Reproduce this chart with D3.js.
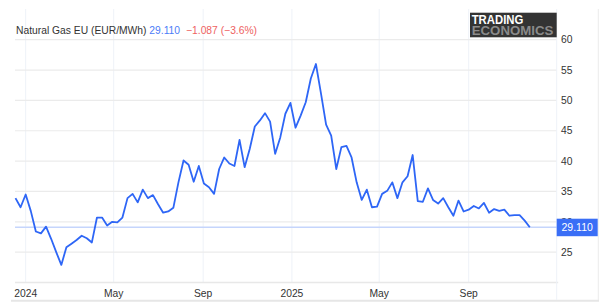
<!DOCTYPE html>
<html>
<head>
<meta charset="utf-8">
<script src="https://cdn.jsdelivr.net/npm/d3@7"></script>
<style>
  html, body { margin: 0; padding: 0; background: #fff; }
  svg { display: block; font-family: "Liberation Sans", Arial, sans-serif; }
</style>
</head>
<body>
<div class="svgcontainer"></div>
<script>
// weekly settlement prices, EUR/MWh
const firstWeek = "2023-12-18";
const prices = [
  33.9, 32.4, 34.5, 31.8, 28.4, 28.1, 29.2, 27.2, 25.0, 22.9,
  25.8, 26.4, 27.0, 27.7, 27.3, 26.6, 30.7, 30.7, 29.4, 30.0,
  29.9, 30.7, 33.9, 34.6, 33.2, 35.3, 33.9, 34.4, 32.9, 31.5,
  31.7, 32.3, 36.5, 40.1, 39.4, 36.6, 39.2, 36.3, 35.7, 34.6,
  38.7, 40.6, 39.6, 39.2, 43.5, 39.0, 42.0, 45.7, 46.7, 47.9,
  46.5, 41.2, 43.9, 47.8, 49.6, 45.5, 47.5, 49.7, 53.6, 56.0,
  51.1, 46.0, 44.2, 38.7, 42.3, 42.5, 40.6, 36.5, 33.6, 35.3,
  32.4, 32.5, 34.6, 35.1, 36.5, 33.9, 36.5, 37.5, 41.0, 33.4,
  33.3, 35.5, 33.6, 33.0, 33.9, 32.4, 31.0, 33.5, 31.7, 32.0,
  32.6, 32.2, 33.1, 31.5, 32.1, 31.8, 32.0, 31.0, 31.1, 31.1,
  30.2, 29.11
];
const xTickDates = ["2024-01-01", "2024-05-01", "2024-09-01", "2025-01-01", "2025-05-01", "2025-09-01"];
const xTickLabels = ["2024", "May", "Sep", "2025", "May", "Sep"];
const yTicks = [25, 30, 35, 40, 45, 50, 55, 60];
const seriesName = "Natural Gas EU (EUR/MWh)";
const lastPrice = 29.110;
const change = -1.087;
const changePct = -3.6;

function drawChart()
{
    const W = 605, H = 306;
    const plot = { left: 15, right: 556.7, top: 9, bottom: 282.5 };

    const parse = d3.timeParse("%Y-%m-%d");
    const start = parse(firstWeek);
    const data = prices.map((v, i) => ({ date: d3.timeDay.offset(start, 7 * i), value: v }));

    const x = d3.scaleTime()
        .domain([new Date(2023, 11, 17, 8), new Date(2025, 11, 31)])
        .range([plot.left, plot.right]);
    const y = d3.scaleLinear()
        .domain([20, 65])
        .range([plot.bottom, plot.bottom - 45 * 6.07]);

    const svg = d3.select('.svgcontainer')
        .append('svg')
        .attr('width', W)
        .attr('height', H);

    // outer frame (right + bottom)
    svg.append('line')
        .attr('x1', 598.3).attr('x2', 598.3)
        .attr('y1', plot.top).attr('y2', 301)
        .attr('stroke', '#ececec').attr('stroke-width', 1);
    svg.append('line')
        .attr('x1', 11).attr('x2', 599)
        .attr('y1', 300.7).attr('y2', 300.7)
        .attr('stroke', '#e6e6e6').attr('stroke-width', 2);

    // vertical grid
    svg.append('g')
        .selectAll('line')
        .data(xTickDates)
        .enter()
        .append('line')
        .attr('x1', d => x(parse(d))).attr('x2', d => x(parse(d)))
        .attr('y1', plot.top).attr('y2', plot.bottom)
        .attr('stroke', '#eef2f8').attr('stroke-width', 1);

    // horizontal grid
    svg.append('g')
        .selectAll('line')
        .data(yTicks)
        .enter()
        .append('line')
        .attr('x1', plot.left).attr('x2', plot.right)
        .attr('y1', d => y(d)).attr('y2', d => y(d))
        .attr('stroke', '#ebebeb').attr('stroke-width', 1.2);

    // bottom axis line and right axis line
    svg.append('line')
        .attr('x1', plot.left).attr('x2', plot.right + 1.5)
        .attr('y1', plot.bottom).attr('y2', plot.bottom)
        .attr('stroke', '#e8e8e8').attr('stroke-width', 1.5);
    svg.append('line')
        .attr('x1', plot.right).attr('x2', plot.right)
        .attr('y1', plot.top).attr('y2', 300)
        .attr('stroke', '#eef2f8').attr('stroke-width', 1);

    // x labels
    svg.append('g')
        .selectAll('text')
        .data(xTickDates)
        .enter()
        .append('text')
        .attr('x', d => x(parse(d)))
        .attr('y', 296.5)
        .attr('text-anchor', 'middle')
        .attr('font-size', '10.3px')
        .attr('fill', '#333')
        .text((d, i) => xTickLabels[i]);

    // y labels
    svg.append('g')
        .selectAll('text')
        .data(yTicks)
        .enter()
        .append('text')
        .attr('x', 561)
        .attr('y', d => y(d))
        .attr('dy', '0.36em')
        .attr('font-size', '10.3px')
        .attr('fill', '#333')
        .text(d => d);

    // last price line
    svg.append('line')
        .attr('x1', plot.left).attr('x2', plot.right)
        .attr('y1', y(lastPrice)).attr('y2', y(lastPrice))
        .attr('stroke', '#c5d5fc').attr('stroke-width', 1.5);

    // series
    svg.append('path')
        .datum(data)
        .attr('fill', 'none')
        .attr('stroke', '#2e66f6')
        .attr('stroke-width', 1.8)
        .attr('stroke-linejoin', 'round')
        .attr('d', d3.line().x(d => x(d.date)).y(d => y(d.value)));

    // last price tag
    const tag = svg.append('g').attr('transform', `translate(${plot.right}, ${y(lastPrice)})`);
    tag.append('rect')
        .attr('x', 0).attr('y', -8.5)
        .attr('width', 41).attr('height', 17.5)
        .attr('fill', '#3a6ef6');
    tag.append('text')
        .attr('x', 20.5).attr('y', 0)
        .attr('dy', '0.36em')
        .attr('text-anchor', 'middle')
        .attr('font-size', '10.5px')
        .attr('fill', '#fff')
        .text(d3.format('.3f')(lastPrice));

    // header
    const head = svg.append('text')
        .attr('x', 16)
        .attr('y', 34.3)
        .attr('font-size', '10.3px');
    head.append('tspan').attr('fill', '#333').text(seriesName + ' ');
    head.append('tspan').attr('fill', '#4b7cf7').text(d3.format('.3f')(lastPrice));
    head.append('tspan').attr('fill', '#ee6262').attr('dx', 6)
        .text(d3.format('.3f')(change) + ' (' + d3.format('.1f')(changePct) + '%)');

    // watermark
    const wm = svg.append('g').attr('transform', 'translate(470, 12.7)');
    wm.append('rect')
        .attr('width', 86.7).attr('height', 24.6)
        .attr('fill', '#333');
    wm.append('text')
        .attr('x', 1.7).attr('y', 11.6)
        .attr('font-size', '12px').attr('font-weight', 'bold')
        .attr('fill', '#fff')
        .attr('textLength', 51.7).attr('lengthAdjust', 'spacingAndGlyphs')
        .text('TRADING');
    wm.append('text')
        .attr('x', 1.7).attr('y', 22.6)
        .attr('font-size', '12px').attr('font-weight', 'bold')
        .attr('fill', '#8a8a8a')
        .attr('textLength', 81.7).attr('lengthAdjust', 'spacingAndGlyphs')
        .text('ECONOMICS');
}
drawChart();
</script>
</body>
</html>
